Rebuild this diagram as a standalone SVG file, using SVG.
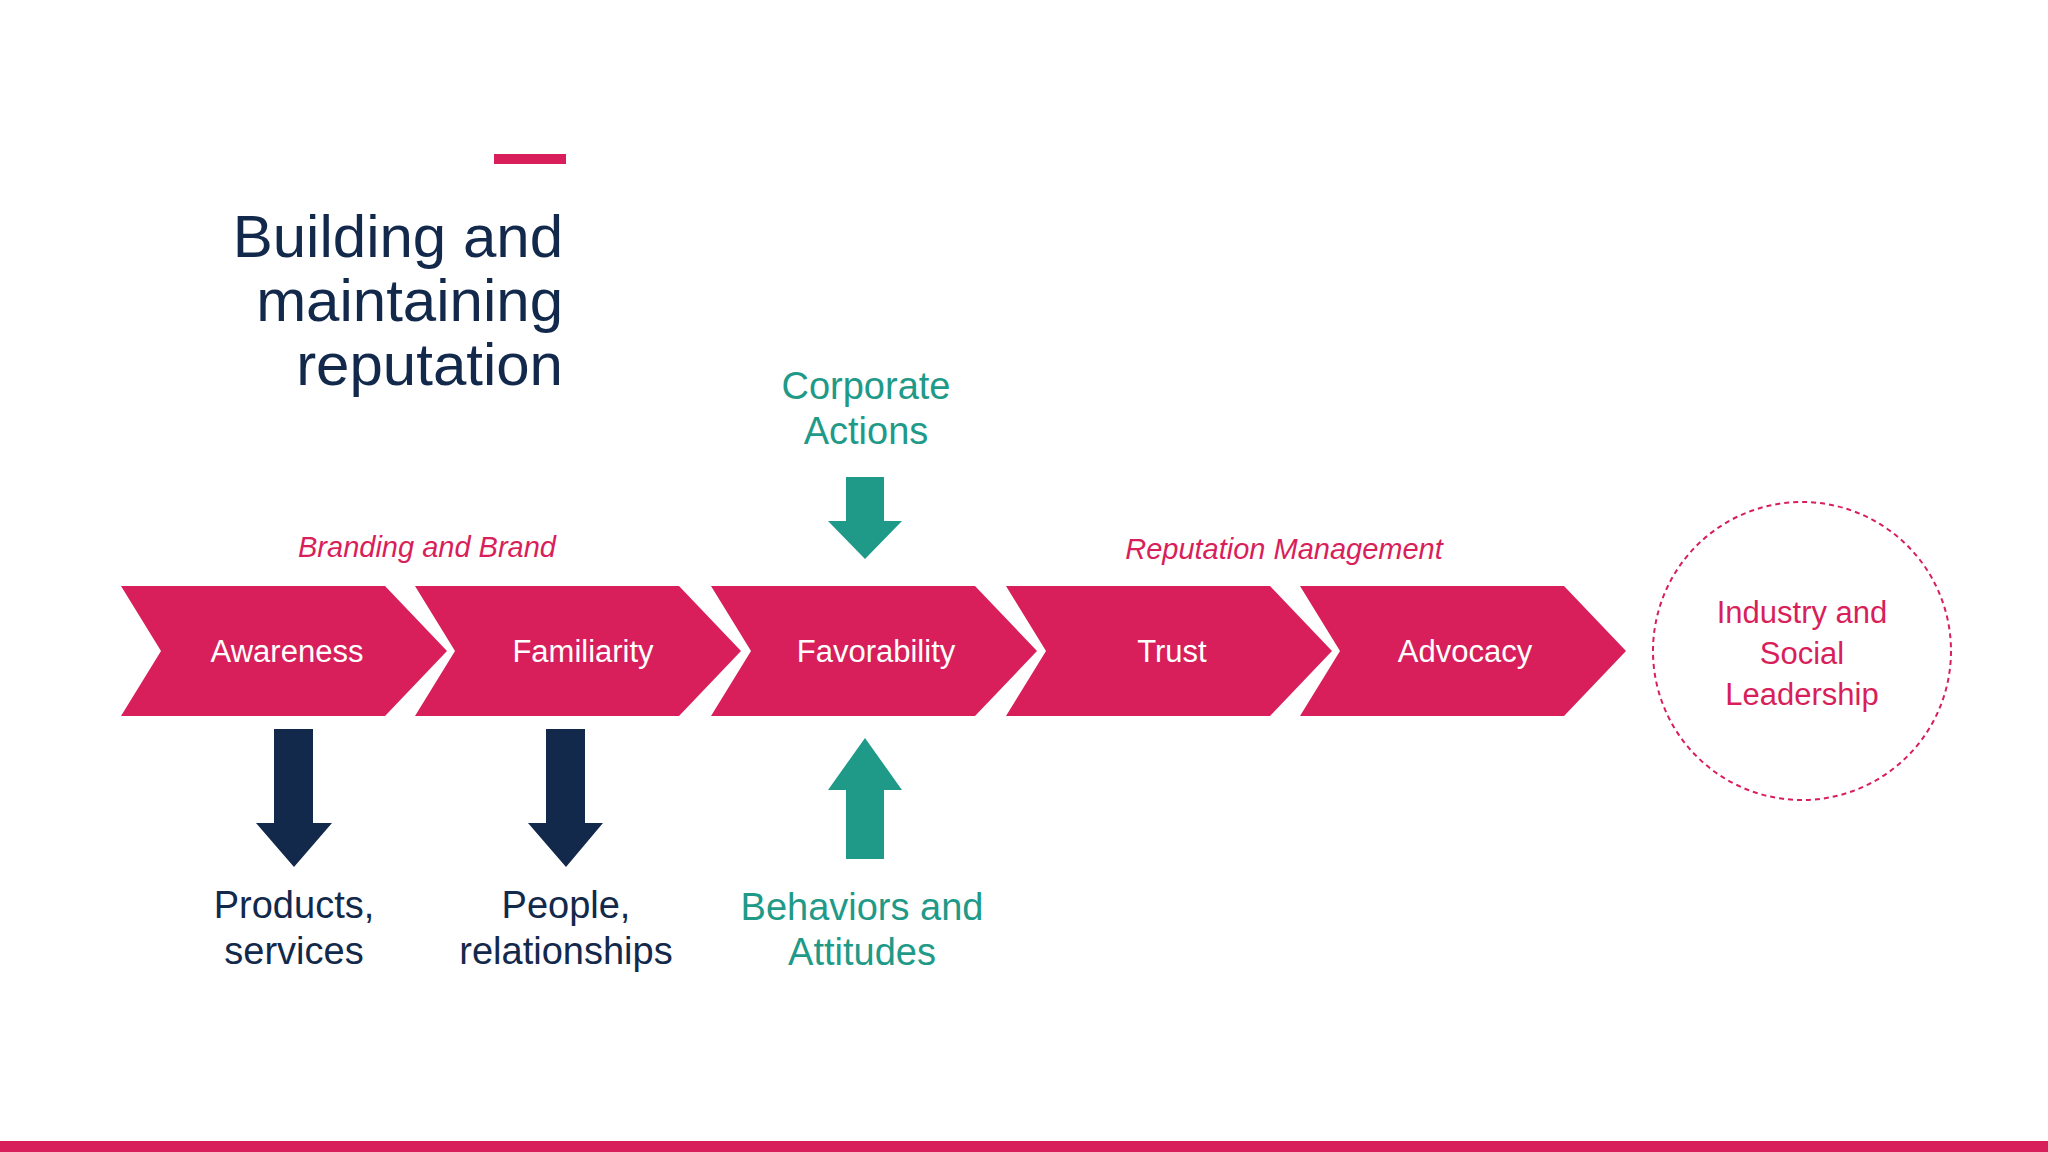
<svg xmlns="http://www.w3.org/2000/svg" width="2048" height="1152" viewBox="0 0 2048 1152">
<style>
text{font-family:"Liberation Sans",Arial,sans-serif}
.chev{fill:#D81F5B}
.ct{fill:#fff;font-size:31px;text-anchor:middle}
.ttl{fill:#13294B;font-size:60px;text-anchor:end}
.lab{fill:#D81F5B;font-size:29px;font-style:italic;text-anchor:middle}
.g{fill:#1F9A88;font-size:38px;text-anchor:middle}
.n{fill:#13294B;font-size:38px;text-anchor:middle}
</style>
<defs>
<path id="chev" d="M0,586 L264,586 L326,651 L264,716 L0,716 L40,651 Z"/>
</defs>
<rect width="2048" height="1152" fill="#fff"/>
<g id="title">
<rect x="494" y="154" width="72" height="10" fill="#D81F5B"/>
<text class="ttl" x="563" y="257">Building and</text>
<text class="ttl" x="563" y="321">maintaining</text>
<text class="ttl" x="563" y="385">reputation</text>
</g>
<g id="labels">
<text class="lab" x="427" y="557">Branding and Brand</text>
<text class="lab" x="1284" y="559">Reputation Management</text>
</g>
<g id="awareness"><use href="#chev" x="121" class="chev"/><text class="ct" x="287" y="662">Awareness</text></g>
<g id="familiarity"><use href="#chev" x="415" class="chev"/><text class="ct" x="583" y="662">Familiarity</text></g>
<g id="favorability"><use href="#chev" x="711" class="chev"/><text class="ct" x="876" y="662">Favorability</text></g>
<g id="trust"><use href="#chev" x="1006" class="chev"/><text class="ct" x="1172" y="662">Trust</text></g>
<g id="advocacy"><use href="#chev" x="1300" class="chev"/><text class="ct" x="1465" y="662">Advocacy</text></g>
<g id="leadership">
<circle cx="1802" cy="651" r="149" fill="none" stroke="#D81F5B" stroke-width="2" stroke-dasharray="5,4"/>
<text x="1802" y="623" fill="#D81F5B" font-size="31" text-anchor="middle">Industry and</text>
<text x="1802" y="664" fill="#D81F5B" font-size="31" text-anchor="middle">Social</text>
<text x="1802" y="705" fill="#D81F5B" font-size="31" text-anchor="middle">Leadership</text>
</g>
<g id="connectors">
<path d="M846,477 H884 V521 H902 L865,559 L828,521 H846 Z" fill="#1F9A88"/>
<path d="M846,859 V790 H828 L865,738 L902,790 H884 V859 Z" fill="#1F9A88"/>
<path d="M274,729 H313 V823 H332 L294,867 L256,823 H274 Z" fill="#13294B"/>
<path d="M546,729 H585 V823 H603 L566,867 L528,823 H546 Z" fill="#13294B"/>
</g>
<g id="corporate"><text class="g" x="866" y="399">Corporate</text><text class="g" x="866" y="444">Actions</text></g>
<g id="behaviors"><text class="g" x="862" y="920">Behaviors and</text><text class="g" x="862" y="965">Attitudes</text></g>
<g id="products"><text class="n" x="294" y="918">Products,</text><text class="n" x="294" y="964">services</text></g>
<g id="people"><text class="n" x="566" y="918">People,</text><text class="n" x="566" y="964">relationships</text></g>
<rect x="0" y="1141" width="2048" height="11" fill="#D81F5B"/>
</svg>
